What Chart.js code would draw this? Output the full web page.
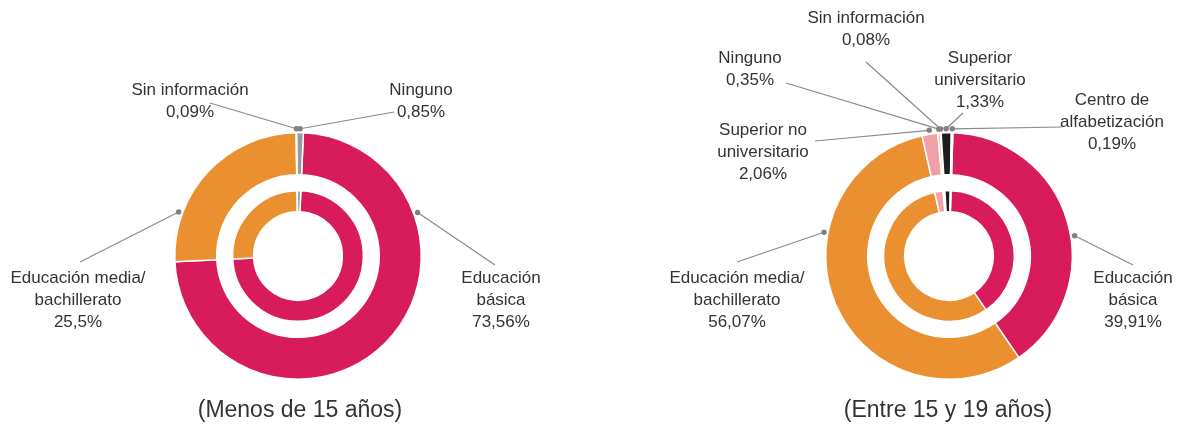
<!DOCTYPE html>
<html>
<head>
<meta charset="utf-8">
<script src="https://cdn.jsdelivr.net/npm/chart.js@4.4.1/dist/chart.umd.min.js"></script>
<style>
  html, body { margin: 0; padding: 0; background: #fff; }
  #wrap { position: relative; width: 1177px; height: 425px; }
  .box { position: absolute; top: 0; height: 425px; }
</style>
</head>
<body>
<div id="wrap">
  <div class="box" style="left:0;width:588px"><canvas id="menos"></canvas></div>
  <div class="box" style="left:588px;width:589px"><canvas id="entre"></canvas></div>
</div>
<script>
// Menos de 15 años
const catsMenos = ['Educación básica', 'Educación media/bachillerato', 'Sin información', 'Ninguno'];
const valsMenos = [73.56, 25.5, 0.09, 0.85];
const linesMenos = [['Educación', 'básica'], ['Educación media/', 'bachillerato'], ['Sin información'], ['Ninguno']];
const coloresMenos = ['#d81b5b', '#eb9030', '#c8c8c8', '#9a9a9a'];

// Entre 15 y 19 años
const catsEntre = ['Educación básica', 'Educación media/bachillerato', 'Superior no universitario', 'Ninguno',
  'Sin información', 'Superior universitario', 'Centro de alfabetización'];
const valsEntre = [39.91, 56.07, 2.06, 0.35, 0.08, 1.33, 0.19];
const linesEntre = [['Educación', 'básica'], ['Educación media/', 'bachillerato'], ['Superior no', 'universitario'],
  ['Ninguno'], ['Sin información'], ['Superior', 'universitario'], ['Centro de', 'alfabetización']];
const coloresEntre = ['#d81b5b', '#eb9030', '#f0a1a8', '#f8c690', '#f3dcc0', '#1c1c1c', '#9a9a9a'];

// posición de las etiquetas (texto y arranque de la línea guía) en coordenadas de página;
// f = punto del arco (fracción) donde cae la línea
const posMenos = [
  { tx: 501, ty: 278, lx: 495, ly: 265, f: 0.255 },
  { tx: 78, ty: 278, lx: 80, ly: 262, f: 0.25 },
  { tx: 190, ty: 90, lx: 210, ly: 103, f: 0.5 },
  { tx: 421, ty: 90, lx: 394, ly: 112, f: 0.5 }
];
const posEntre = [
  { tx: 1133, ty: 278, lx: 1133, ly: 265, f: 0.55 },
  { tx: 737, ty: 278, lx: 737, ly: 262, f: 0.67 },
  { tx: 763, ty: 130, lx: 815, ly: 141, f: 0.5 },
  { tx: 750, ty: 58, lx: 786, ly: 83, f: 0.5 },
  { tx: 866, ty: 18, lx: 866, ly: 62, f: 0.5 },
  { tx: 980, ty: 58, lx: 963, ly: 113, f: 0.5 },
  { tx: 1112, ty: 100, lx: 1062, ly: 127, f: 0.5 }
];

const fmt = v => String(v).replace('.', ',') + '%';
const FONT = '"Liberation Sans", Arial, sans-serif';

// etiquetas con línea guía y punto
const leaderLabels = {
  id: 'leaderLabels',
  afterDraw(chart, args, opts) {
    const ctx = chart.ctx;
    const meta = chart.getDatasetMeta(0);
    const vals = chart.data.datasets[0].data;
    ctx.save();
    opts.pos.forEach((p, i) => {
      const arc = meta.data[i];
      const { x, y, startAngle, endAngle, outerRadius } =
        arc.getProps(['x', 'y', 'startAngle', 'endAngle', 'outerRadius'], true);
      const ang = startAngle + (endAngle - startAngle) * p.f;
      const r = outerRadius + 4;
      const dx = x + Math.cos(ang) * r;
      const dy = y + Math.sin(ang) * r;
      ctx.strokeStyle = '#8a8a8a';
      ctx.lineWidth = 1.2;
      ctx.beginPath();
      ctx.moveTo(p.lx - opts.offset, p.ly);
      ctx.lineTo(dx, dy);
      ctx.stroke();
      ctx.fillStyle = '#808080';
      ctx.beginPath();
      ctx.arc(dx, dy, 2.7, 0, Math.PI * 2);
      ctx.fill();

      const txt = opts.lines[i].concat([fmt(vals[i])]);
      ctx.fillStyle = '#333';
      ctx.font = '17px ' + FONT;
      ctx.textAlign = 'center';
      ctx.textBaseline = 'middle';
      txt.forEach((t, k) => ctx.fillText(t, p.tx - opts.offset, p.ty + k * 22));
    });
    ctx.font = '23px ' + FONT;
    ctx.fillStyle = '#333';
    ctx.textAlign = 'center';
    ctx.textBaseline = 'middle';
    ctx.fillText(opts.titulo, opts.tituloX - opts.offset, 411);
    ctx.restore();
  }
};

function donut(id, cats, vals, colores, lines, pos, offset, padding, rotation, titulo, tituloX) {
  new Chart(document.getElementById(id), {
    type: 'doughnut',
    data: {
      labels: cats,
      datasets: [
        { data: vals, backgroundColor: colores, borderColor: '#fff', borderWidth: 1.5, weight: 42 },
        { data: [1], backgroundColor: 'rgba(0,0,0,0)', borderWidth: 0, weight: 16 },
        { data: vals, backgroundColor: colores, borderColor: '#fff', borderWidth: 1.5, weight: 21 }
      ]
    },
    options: {
      responsive: true,
      maintainAspectRatio: false,
      animation: false,
      cutout: '36%',
      rotation: rotation,
      events: [],
      layout: { padding: padding },
      plugins: {
        legend: { display: false },
        tooltip: { enabled: false },
        leaderLabels: { pos, lines, offset, titulo, tituloX }
      }
    },
    plugins: [leaderLabels]
  });
}

donut('menos', catsMenos, valsMenos, coloresMenos, linesMenos, posMenos, 0,
  { left: 174, right: 166, top: 132, bottom: 45 }, 2.5, '(Menos de 15 años)', 300);
donut('entre', catsEntre, valsEntre, coloresEntre, linesEntre, posEntre, 588,
  { left: 237, right: 104, top: 132, bottom: 45 }, 1.8, '(Entre 15 y 19 años)', 948);
</script>
</body>
</html>
